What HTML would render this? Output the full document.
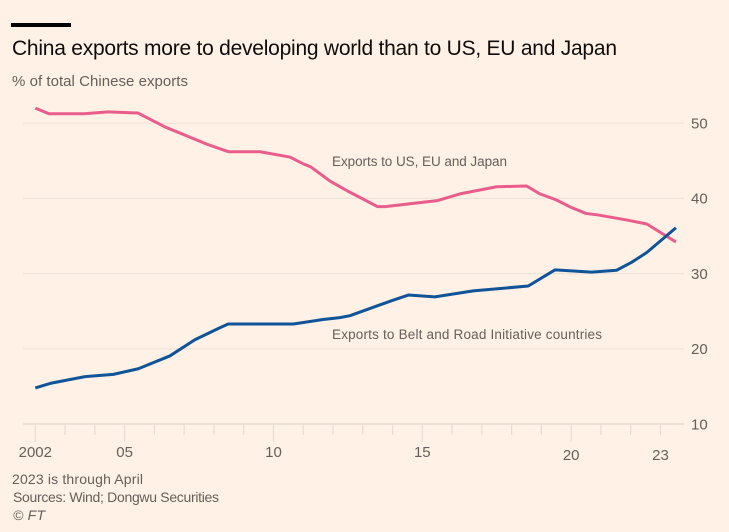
<!DOCTYPE html>
<html lang="en">
<head>
<meta charset="utf-8">
<title>China exports more to developing world than to US, EU and Japan</title>
<style>
html,body{margin:0;padding:0;background:#fff1e5;}
svg{display:block;font-family:"Liberation Sans",sans-serif;}
</style>
</head>
<body>
<svg id="chart" width="729" height="532" viewBox="0 0 729 532" xmlns="http://www.w3.org/2000/svg">
  <rect x="0" y="0" width="729" height="532" fill="#fff1e5"/>
  <rect x="11" y="23" width="60" height="4" fill="#000"/>
  <text x="12" y="55" font-size="21" fill="#0f0d0c" textLength="605" lengthAdjust="spacing">China exports more to developing world than to US, EU and Japan</text>
  <text x="12" y="86" font-size="15" fill="#66605c" textLength="176" lengthAdjust="spacing">% of total Chinese exports</text>
  <g id="grid"></g>
  <g id="xaxis"></g>
  <g id="ylabels"></g>
  <g id="lines"></g>
  <text x="332" y="166" font-size="13.5" fill="#66605c" textLength="175" lengthAdjust="spacing">Exports to US, EU and Japan</text>
  <text x="332" y="339" font-size="13.5" fill="#66605c" textLength="270" lengthAdjust="spacing">Exports to Belt and Road Initiative countries</text>
  <text x="12" y="484" font-size="14" fill="#66605c" textLength="131" lengthAdjust="spacing">2023 is through April</text>
  <text x="13" y="502" font-size="14" fill="#66605c" textLength="206" lengthAdjust="spacing">Sources: Wind; Dongwu Securities</text>
  <text x="13" y="520" font-size="14" font-style="italic" fill="#66605c" textLength="32" lengthAdjust="spacing">© FT</text>
</svg>
<script>
const usEuJapanYears = [2002, 2002.46, 2003.64, 2004.44, 2005.45, 2006.36, 2007.77, 2008.5, 2009.55, 2010.55, 2011, 2011.25, 2011.9, 2012.53, 2013.5, 2013.75, 2015.5, 2016.26, 2017.5, 2018.5, 2018.95, 2019.5, 2020, 2020.5, 2020.9, 2021.9, 2022.54, 2023.52];
const usEuJapanValues = [52, 51.26, 51.26, 51.5, 51.35, 49.5, 47.2, 46.2, 46.2, 45.5, 44.6, 44.2, 42.3, 40.9, 38.9, 38.9, 39.7, 40.6, 41.55, 41.65, 40.6, 39.8, 38.8, 38, 37.8, 37.1, 36.6, 34.2];
const beltRoadYears = [2002, 2002.5, 2003.67, 2004.62, 2005.46, 2006.52, 2007.36, 2008.2, 2008.48, 2010.67, 2011.67, 2012.23, 2012.57, 2013.97, 2014.53, 2015.42, 2016.71, 2018.56, 2019.46, 2020.69, 2021.53, 2022.03, 2022.54, 2023.52];
const beltRoadValues = [14.8, 15.4, 16.3, 16.6, 17.35, 19.05, 21.2, 22.8, 23.3, 23.3, 23.9, 24.15, 24.4, 26.4, 27.15, 26.9, 27.7, 28.35, 30.5, 30.2, 30.45, 31.5, 32.8, 36.1];
const yTicks = [10, 20, 30, 40, 50];
const xTickYears = [2002, 2003, 2004, 2005, 2006, 2007, 2008, 2009, 2010, 2011, 2012, 2013, 2014, 2015, 2016, 2017, 2018, 2019, 2020, 2021, 2022, 2023];
const xLabelYears = [2002, 2005, 2010, 2015, 2020, 2023];
const xLabelTexts = ['2002', '05', '10', '15', '20', '23'];

const NS = 'http://www.w3.org/2000/svg';
function xScale(year) { return 35.3 + (year - 2002) * 29.77; }
function yScale(value) { return 424 - (value - 10) * 7.52; }
function make(tag, attrs, parent) {
  const el = document.createElementNS(NS, tag);
  for (const k in attrs) el.setAttribute(k, attrs[k]);
  parent.appendChild(el);
  return el;
}

const grid = document.getElementById('grid');
const yLabels = document.getElementById('ylabels');
yTicks.forEach(function (t) {
  const y = yScale(t);
  const line = make('line', { x1: 23, x2: 684, y1: y, y2: y, stroke: t === 10 ? '#e6dcd4' : '#eee3da', 'stroke-width': t === 10 ? 1.6 : 1.2 }, grid);
  
  
  const label = make('text', { x: 691, y: y + 5.3, 'font-size': 15, fill: '#66605c' }, yLabels);
  
  
  label.textContent = String(t);
});

const xAxis = document.getElementById('xaxis');
xTickYears.forEach(function (yr) {
  const x = xScale(yr);
  const major = xLabelYears.indexOf(yr) >= 0 && yr !== 2023;
  const tick = make('line', { x1: x, x2: x, y1: 424, y2: major ? 442 : 435, stroke: '#e6dcd4', 'stroke-width': 1.2 }, xAxis);
  
  
});
xLabelYears.forEach(function (yr, i) {
  const label = make('text', { x: xScale(yr), y: yr >= 2020 ? 460 : 457, 'font-size': 15, fill: '#66605c', 'text-anchor': 'middle' }, xAxis);
  
  
  label.textContent = xLabelTexts[i];
});

function linePath(years, values) {
  return years.map(function (yr, i) {
    return (i ? 'L' : 'M') + xScale(yr).toFixed(2) + ' ' + yScale(values[i]).toFixed(2);
  }).join(' ');
}
const lines = document.getElementById('lines');
const pink = make('path', { d: linePath(usEuJapanYears, usEuJapanValues), fill: 'none', stroke: '#e95d8c', 'stroke-width': 3, 'stroke-linejoin': 'round' }, lines);


const blue = make('path', { d: linePath(beltRoadYears, beltRoadValues), fill: 'none', stroke: '#0f5499', 'stroke-width': 3, 'stroke-linejoin': 'round' }, lines);


</script>
</body>
</html>
